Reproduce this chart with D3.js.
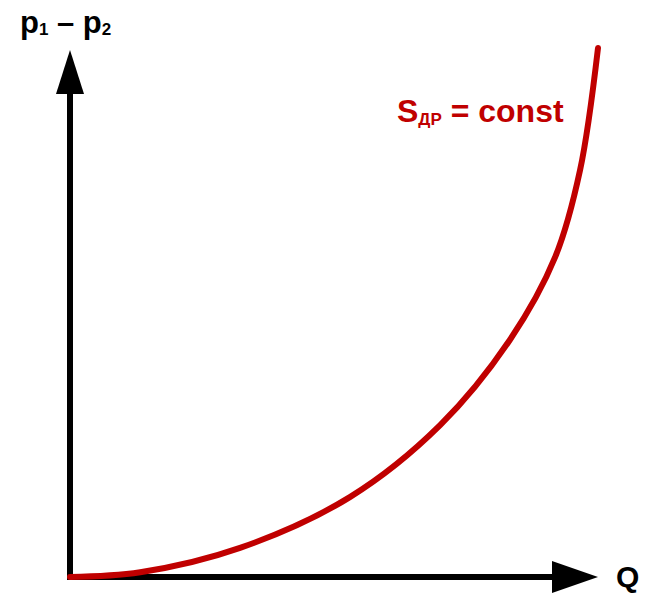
<!DOCTYPE html>
<html>
<head>
<meta charset="utf-8">
<script src="https://cdn.jsdelivr.net/npm/d3@7"></script>
<style>
  html, body { margin: 0; padding: 0; background: #fff; }
  svg { display: block; font-family: "Liberation Sans", Arial, sans-serif; font-weight: bold; }
</style>
</head>
<body>
<div id="container"></div>
<script>
// расход Q и перепад давления p1 - p2 (условные единицы, 0..100)
const qValues  = [0, 13.3, 32.2, 53.0, 70.1, 83.3, 91.9, 96.6, 100];
const dpValues = [0, 0.9, 5.5, 15.1, 28.7, 44.8, 60.5, 76.9, 100];

const width = 654, height = 599;
const svg = d3.select('#container').append('svg')
  .attr('width', width).attr('height', height);

const x = d3.scaleLinear().domain([0, 100]).range([70, 598]);
const y = d3.scaleLinear().domain([0, 100]).range([577, 48]);

const axisW = 6;

// ось Y
svg.append('line')
  .attr('x1', x(0)).attr('x2', x(0))
  .attr('y1', y(0) + axisW / 2).attr('y2', 90)
  .attr('stroke', '#000').attr('stroke-width', axisW);
svg.append('path')
  .attr('d', `M${x(0)},50 L${x(0) - 14},94 L${x(0) + 14},94 Z`)
  .attr('fill', '#000');

// ось X
svg.append('line')
  .attr('x1', x(0) - axisW / 2).attr('x2', 556)
  .attr('y1', y(0)).attr('y2', y(0))
  .attr('stroke', '#000').attr('stroke-width', axisW);
svg.append('path')
  .attr('d', `M598,${y(0)} L552,${y(0) - 16} L552,${y(0) + 16} Z`)
  .attr('fill', '#000');

// кривая
const pts = qValues.map((q, i) => [q, dpValues[i]]);
const line = d3.line()
  .x(d => x(d[0]))
  .y(d => y(d[1]))
  .curve(d3.curveCatmullRom.alpha(0.5));

svg.append('path')
  .datum(pts)
  .attr('d', line)
  .attr('fill', 'none')
  .attr('stroke', '#c00000')
  .attr('stroke-width', 6)
  .attr('stroke-linecap', 'round');

// подписи
const yLabel = svg.append('text').attr('x', 20).attr('y', 33)
  .style('font-size', '31px').attr('fill', '#000');
yLabel.append('tspan').text('p');
yLabel.append('tspan').attr('dy', 2).style('font-size', '17px').text('1');
yLabel.append('tspan').attr('dy', -2).text(' – p');
yLabel.append('tspan').attr('dy', 2).style('font-size', '17px').text('2');

svg.append('text').attr('x', 616).attr('y', 587)
  .style('font-size', '30px').attr('fill', '#000').text('Q');

const sLabel = svg.append('text').attr('x', 397).attr('y', 122)
  .style('font-size', '32px').attr('fill', '#c00000');
sLabel.append('tspan').text('S');
sLabel.append('tspan').attr('dy', 3).style('font-size', '17px').text('ДР');
sLabel.append('tspan').attr('dy', -3).text(' = const');
</script>
</body>
</html>
